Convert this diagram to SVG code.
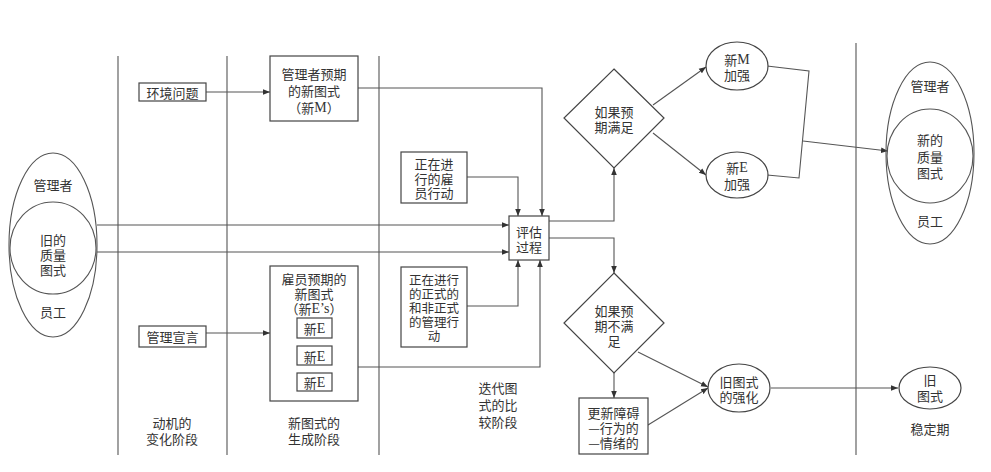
<svg xmlns="http://www.w3.org/2000/svg" width="991" height="472" viewBox="0 0 991 472">
<style>
text{font-family:"Noto Sans CJK SC","Noto Sans",sans-serif;font-size:13px;fill:#333;text-anchor:middle;dominant-baseline:central}
.s{font-size:12.5px}
.lat{font-family:"Liberation Serif",serif;font-size:14px}
.b{fill:#fff;stroke:#444;stroke-width:1.2}
.l{fill:none;stroke:#555;stroke-width:1.1}
.d{fill:none;stroke:#555;stroke-width:1.1}
.c{fill:none;stroke:#555;stroke-width:1.1;marker-end:url(#a)}
</style>
<defs>
<marker id="a" viewBox="0 0 10 10" refX="10" refY="5" markerWidth="7" markerHeight="7" markerUnits="userSpaceOnUse" orient="auto"><path d="M0,1L10,5L0,9z" fill="#333"/></marker>
</defs>
<rect width="991" height="472" fill="#fff"/>
<g id="dividers">
<line class="d" x1="118" y1="56" x2="118" y2="455"/>
<line class="d" x1="227" y1="56" x2="227" y2="455"/>
<line class="d" x1="379" y1="56" x2="379" y2="455"/>
<line class="d" x1="856" y1="43" x2="856" y2="455"/>
</g>
<g id="connectors">
<path class="c" d="M97,225H509"/>
<path class="c" d="M97,252H509"/>
<path class="c" d="M206,92H270"/>
<path class="c" d="M206,333H270"/>
<path class="c" d="M358,88H542V216"/>
<path class="c" d="M467,177H518V216"/>
<path class="c" d="M358,367H540V260"/>
<path class="c" d="M467,306H518V260"/>
<path class="c" d="M549,221H614V168"/>
<path class="c" d="M549,238H614V273"/>
<path class="c" d="M653,105L706,67"/>
<path class="c" d="M653,133L706,175"/>
<path class="l" d="M767,66L809,71L799,178L767,175"/>
<path class="c" d="M803,141L888,151"/>
<path class="c" d="M614,373V398"/>
<path class="c" d="M638,352L708,387"/>
<path class="c" d="M648,425L708,388"/>
<path class="c" d="M771,388H898"/>
</g>
<g id="old-schema">
<ellipse class="l" cx="53" cy="245" rx="44" ry="92"/>
<ellipse class="l" cx="53" cy="248" rx="43" ry="46"/>
<text x="53" y="184">管理者</text>
<text><tspan x="53" y="239">旧的</tspan><tspan x="53" y="254">质量</tspan><tspan x="53" y="269">图式</tspan></text>
<text x="53" y="311">员工</text>
</g>
<g id="env">
<rect class="b" x="139" y="83" width="67" height="18"/>
<text x="172.5" y="92">环境问题</text>
</g>
<g id="mgmt-decl">
<rect class="b" x="139" y="326" width="67" height="21"/>
<text x="172.5" y="336">管理宣言</text>
</g>
<g id="new-m-schema">
<rect class="b" x="270" y="56" width="88" height="65"/>
<text><tspan x="314" y="73">管理者预期</tspan><tspan x="314" y="90">的新图式</tspan><tspan x="314" y="107">（新<tspan class="lat">M</tspan>）</tspan></text>
</g>
<g id="new-e-schema">
<rect class="b" x="270" y="266" width="88" height="135"/>
<text><tspan x="314" y="278">雇员预期的</tspan><tspan x="314" y="293">新图式</tspan><tspan x="314" y="308">（新<tspan class="lat">E’s</tspan>）</tspan></text>
<rect class="b" x="297" y="318" width="35" height="20"/>
<text x="314.5" y="328">新<tspan class="lat">E</tspan></text>
<rect class="b" x="297" y="346" width="35" height="19"/>
<text x="314.5" y="356">新<tspan class="lat">E</tspan></text>
<rect class="b" x="297" y="373" width="35" height="18"/>
<text x="314.5" y="382">新<tspan class="lat">E</tspan></text>
</g>
<g id="emp-action">
<rect class="b" x="401" y="152" width="66" height="51"/>
<text><tspan x="434" y="163">正在进</tspan><tspan x="434" y="177.5">行的雇</tspan><tspan x="434" y="192">员行动</tspan></text>
</g>
<g id="mgmt-action">
<rect class="b" x="401" y="267" width="66" height="80"/>
<text class="s"><tspan x="434" y="279">正在进行</tspan><tspan x="434" y="293">的正式的</tspan><tspan x="434" y="307">和非正式</tspan><tspan x="434" y="321">的管理行</tspan><tspan x="434" y="335">动</tspan></text>
</g>
<g id="eval">
<rect class="b" x="509" y="216" width="40" height="44"/>
<text><tspan x="529" y="231">评估</tspan><tspan x="529" y="246">过程</tspan></text>
</g>
<g id="met">
<path class="b" d="M614,69L664,118L614,168L564,118z"/>
<text><tspan x="614" y="111">如果预</tspan><tspan x="614" y="126">期满足</tspan></text>
</g>
<g id="unmet">
<path class="b" d="M614,273L664,323L614,373L564,323z"/>
<text><tspan x="614" y="310">如果预</tspan><tspan x="614" y="325">期不满</tspan><tspan x="614" y="340">足</tspan></text>
</g>
<g id="barrier">
<rect class="b" x="579" y="398" width="69" height="56"/>
<text><tspan x="613.5" y="412">更新障碍</tspan><tspan x="613.5" y="427">—行为的</tspan><tspan x="613.5" y="442">—情绪的</tspan></text>
</g>
<g id="new-m">
<ellipse class="b" cx="737" cy="66" rx="31" ry="24"/>
<text><tspan x="737" y="59">新<tspan class="lat">M</tspan></tspan><tspan x="737" y="74">加强</tspan></text>
</g>
<g id="new-e">
<ellipse class="b" cx="737" cy="175" rx="31" ry="23"/>
<text><tspan x="737" y="167">新<tspan class="lat">E</tspan></tspan><tspan x="737" y="183">加强</tspan></text>
</g>
<g id="old-reinforce">
<ellipse class="b" cx="739" cy="388" rx="31" ry="24"/>
<text><tspan x="739" y="381">旧图式</tspan><tspan x="739" y="396">的强化</tspan></text>
</g>
<g id="new-schema">
<ellipse class="l" cx="930" cy="153" rx="44" ry="91"/>
<ellipse class="l" cx="930" cy="156" rx="43" ry="47"/>
<text x="930" y="85">管理者</text>
<text><tspan x="930" y="139">新的</tspan><tspan x="930" y="156">质量</tspan><tspan x="930" y="172">图式</tspan></text>
<text x="930" y="220">员工</text>
</g>
<g id="old-final">
<ellipse class="b" cx="930" cy="388" rx="31" ry="21"/>
<text><tspan x="930" y="379">旧</tspan><tspan x="930" y="395">图式</tspan></text>
</g>
<g id="phase-labels">
<text><tspan x="172" y="422">动机的</tspan><tspan x="172" y="438">变化阶段</tspan></text>
<text><tspan x="314" y="422">新图式的</tspan><tspan x="314" y="438">生成阶段</tspan></text>
<text><tspan x="498" y="387">迭代图</tspan><tspan x="498" y="404">式的比</tspan><tspan x="498" y="421">较阶段</tspan></text>
<text x="930" y="428">稳定期</text>
</g>
</svg>
